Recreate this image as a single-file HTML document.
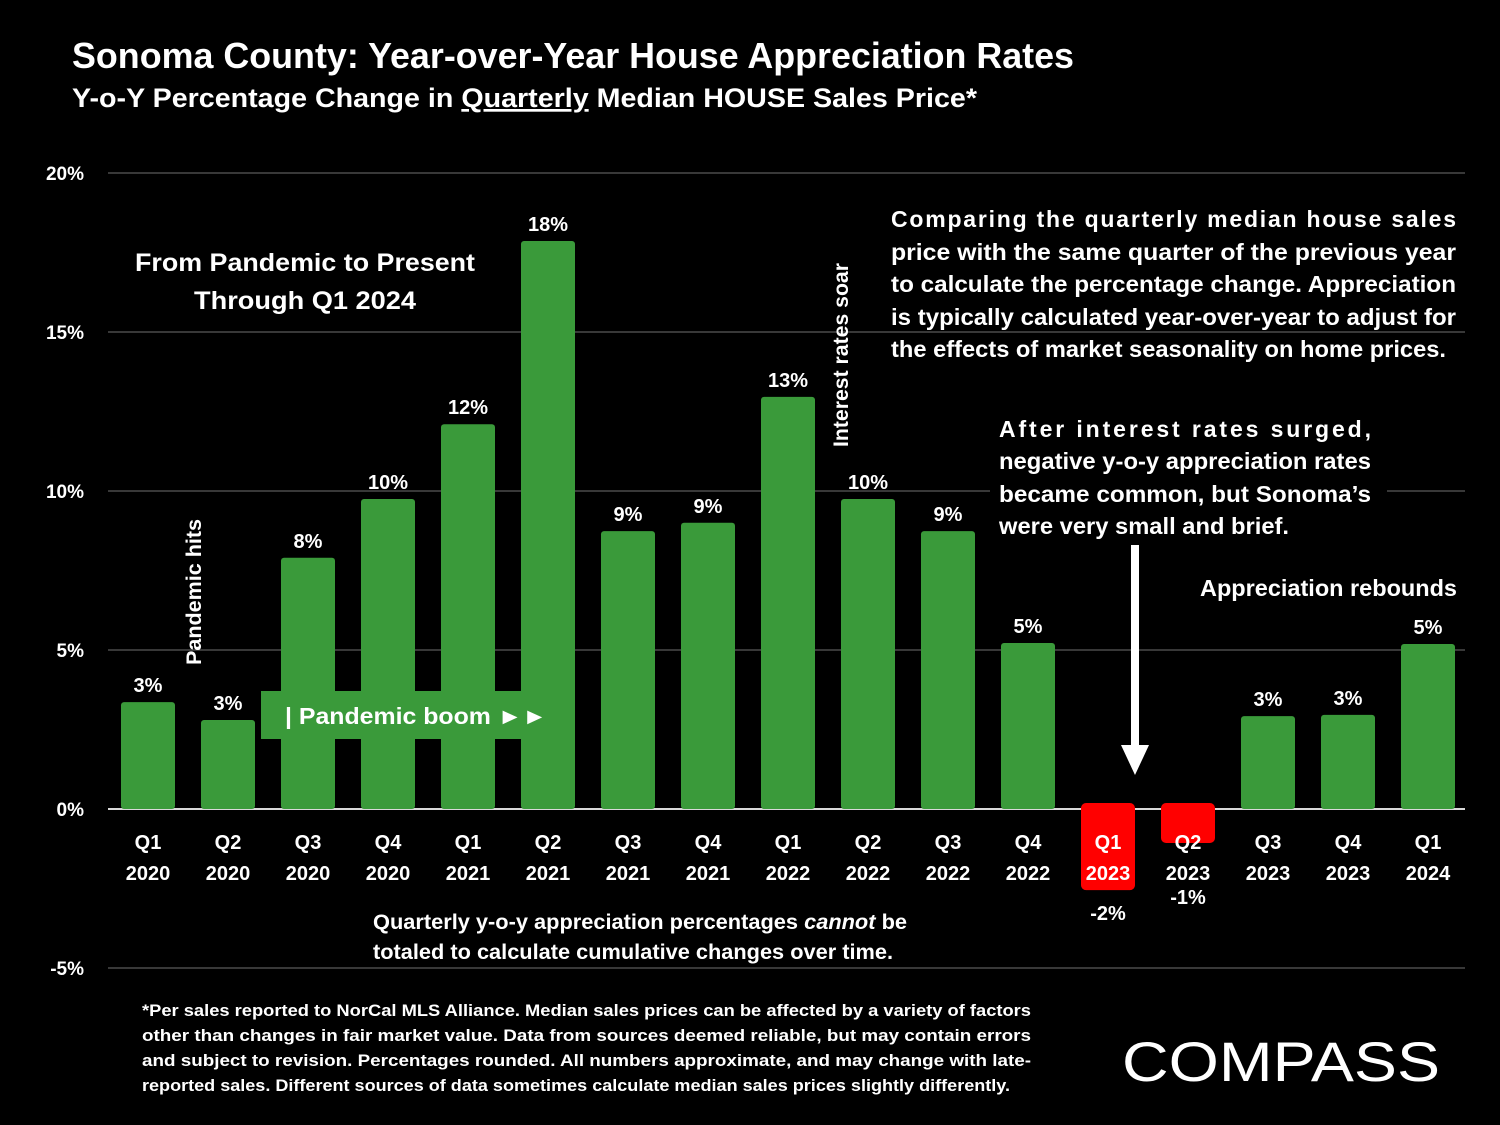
<!DOCTYPE html>
<html><head><meta charset="utf-8"><style>
html,body{margin:0;padding:0;background:#000;}
svg{display:block;font-family:"Liberation Sans",sans-serif;font-weight:bold;}
</style></head><body>
<svg id="chart" width="1500" height="1125" viewBox="0 0 1500 1125">
<rect width="1500" height="1125" fill="#000"/>
<text x="72" y="68" fill="#fff" font-size="36" textLength="1002" lengthAdjust="spacingAndGlyphs">Sonoma County: Year-over-Year House Appreciation Rates</text>
<text x="72" y="107" fill="#fff" font-size="27" textLength="905" lengthAdjust="spacingAndGlyphs">Y-o-Y Percentage Change in <tspan text-decoration="underline">Quarterly</tspan> Median HOUSE Sales Price*</text>
<g id="grid"></g>
<g id="bars"></g>
<g id="xlabels"></g>
<text x="305" y="271" fill="#fff" font-size="25" text-anchor="middle" textLength="340" lengthAdjust="spacingAndGlyphs">From Pandemic to Present</text>
<text x="305" y="309" fill="#fff" font-size="25" text-anchor="middle" textLength="222" lengthAdjust="spacingAndGlyphs">Through Q1 2024</text>
<rect x="261" y="691" width="287" height="48" fill="#3a9a3a"/>
<text x="285" y="724" fill="#fff" font-size="23" textLength="262" lengthAdjust="spacingAndGlyphs">| Pandemic boom ►►</text>
<text transform="translate(201,665) rotate(-90)" fill="#fff" font-size="21" textLength="146" lengthAdjust="spacingAndGlyphs">Pandemic hits</text>
<text transform="translate(848,447) rotate(-90)" fill="#fff" font-size="21" textLength="184" lengthAdjust="spacingAndGlyphs">Interest rates soar</text>
<g fill="#fff" font-size="23">
<text x="891" y="227" textLength="565" lengthAdjust="spacing">Comparing the quarterly median house sales</text>
<text x="891" y="260" textLength="565" lengthAdjust="spacingAndGlyphs">price with the same quarter of the previous year</text>
<text x="891" y="292" textLength="565" lengthAdjust="spacingAndGlyphs">to calculate the percentage change. Appreciation</text>
<text x="891" y="325" textLength="565" lengthAdjust="spacingAndGlyphs">is typically calculated year-over-year to adjust for</text>
<text x="891" y="357" textLength="555" lengthAdjust="spacingAndGlyphs">the effects of market seasonality on home prices.</text>
</g>
<rect x="990" y="410" width="397" height="130" fill="#000"/>
<g fill="#fff" font-size="23">
<text x="999" y="437" textLength="372" lengthAdjust="spacing">After interest rates surged,</text>
<text x="999" y="469" textLength="372" lengthAdjust="spacingAndGlyphs">negative y-o-y appreciation rates</text>
<text x="999" y="502" textLength="372" lengthAdjust="spacingAndGlyphs">became common, but Sonoma’s</text>
<text x="999" y="534" textLength="290" lengthAdjust="spacingAndGlyphs">were very small and brief.</text>
</g>
<g>
<rect x="1131" y="545" width="8" height="210" fill="#fff"/>
<polygon points="1121,745 1149,745 1135,775" fill="#fff"/>
</g>
<rect x="1195" y="570" width="268" height="36" fill="#000"/>
<text x="1200" y="596" fill="#fff" font-size="23" textLength="257" lengthAdjust="spacingAndGlyphs">Appreciation rebounds</text>
<g fill="#fff" font-size="21">
<text x="373" y="929" textLength="534" lengthAdjust="spacingAndGlyphs">Quarterly y-o-y appreciation percentages <tspan font-style="italic">cannot</tspan> be</text>
<text x="373" y="959" textLength="520" lengthAdjust="spacingAndGlyphs">totaled to calculate cumulative changes over time.</text>
</g>
<g fill="#fff" font-size="17">
<text x="142" y="1016" textLength="889" lengthAdjust="spacingAndGlyphs">*Per sales reported to NorCal MLS Alliance. Median sales prices can be affected by a variety of factors</text>
<text x="142" y="1041" textLength="889" lengthAdjust="spacingAndGlyphs">other than changes in fair market value. Data from sources deemed reliable, but may contain errors</text>
<text x="142" y="1066" textLength="889" lengthAdjust="spacingAndGlyphs">and subject to revision. Percentages rounded. All numbers approximate, and may change with late-</text>
<text x="142" y="1091" textLength="868" lengthAdjust="spacingAndGlyphs">reported sales. Different sources of data sometimes calculate median sales prices slightly differently.</text>
</g>
<text x="1122" y="1081" fill="#fff" font-size="56" font-weight="normal" textLength="318" lengthAdjust="spacingAndGlyphs">COMPASS</text>
</svg>
<script>
const categories=["Q1|2020","Q2|2020","Q3|2020","Q4|2020","Q1|2021","Q2|2021","Q3|2021","Q4|2021","Q1|2022","Q2|2022","Q3|2022","Q4|2022","Q1|2023","Q2|2023","Q3|2023","Q4|2023","Q1|2024"];
const values=[3.36,2.8,7.9,9.75,12.1,17.86,8.74,9.0,12.96,9.75,8.74,5.22,-2.55,-1.07,2.92,2.96,5.19];
const valueLabels=["3%","3%","8%","10%","12%","18%","9%","9%","13%","10%","9%","5%","-2%","-1%","3%","3%","5%"];
const yTicks=[20,15,10,5,0,-5];
const yTickLabels=["20%","15%","10%","5%","0%","-5%"];
const NS="http://www.w3.org/2000/svg";
const y=v=>809-v*31.8;
const x=i=>148+i*80;
function mk(tag,attrs,parent){const e=document.createElementNS(NS,tag);for(const k in attrs)e.setAttribute(k,attrs[k]);parent.appendChild(e);return e;}
const grid=document.getElementById('grid'),bars=document.getElementById('bars'),xl=document.getElementById('xlabels');
yTicks.forEach((t,i)=>{
 const l=mk('line',{x1:108,x2:1465,y1:y(t),y2:y(t),stroke:t===0?'#d9d9d9':'#595959','stroke-width':t===0?2:1.3},grid);
 
 
 const tx=mk('text',{x:84,y:y(t)+7,fill:'#fff','font-size':19,'text-anchor':'end'},grid);
 tx.textContent=yTickLabels[i];
 
 
});
values.forEach((v,i)=>{
 const neg=v<0;const top=neg?y(0)-6:y(v);const h=neg?y(v)-y(0)+6:y(0)-y(v);
 const r=mk('rect',{x:x(i)-27,y:top,width:54,height:h,rx:neg?5:3,fill:neg?'#ff0000':'#3a9a3a'},bars);
 
 
 const t=mk('text',{x:x(i),y:neg?Math.max(y(v)+30,904):y(v)-10,fill:'#fff','font-size':20,'text-anchor':'middle'},bars);
 t.textContent=valueLabels[i];
 
 
 const parts=categories[i].split('|');
 parts.forEach((p,j)=>{
  const c=mk('text',{x:x(i),y:849+j*31,fill:'#fff','font-size':20,'text-anchor':'middle'},xl);
  c.textContent=p;
  
  
 });
});
</script>
</body></html>
